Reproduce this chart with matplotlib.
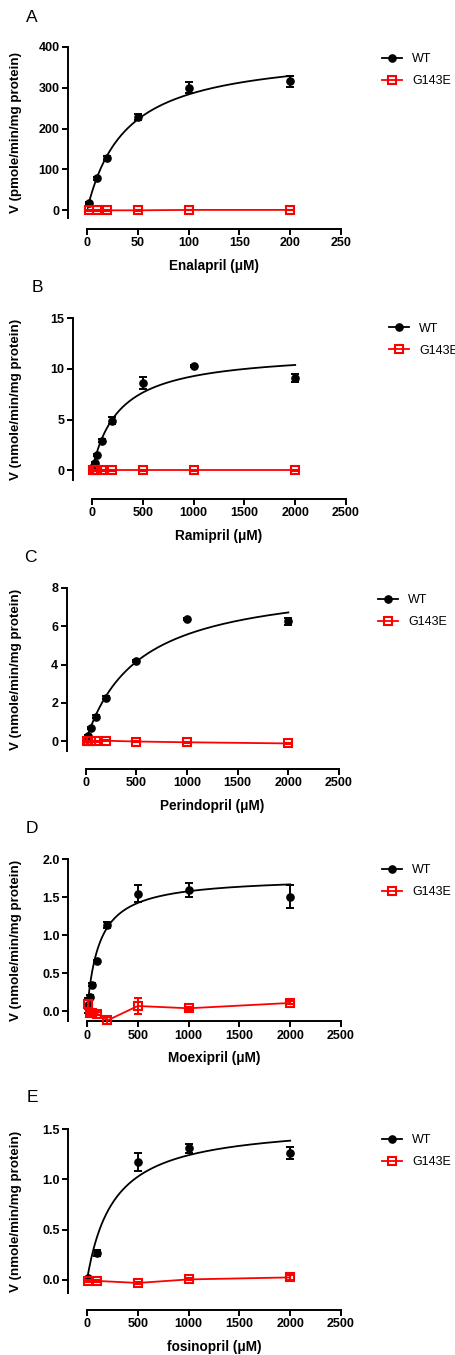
import numpy as np
import matplotlib
matplotlib.use('Agg')
import matplotlib.pyplot as plt
import matplotlib.transforms as mtransforms
from matplotlib.lines import Line2D
from matplotlib.ticker import FormatStrFormatter

plt.rcParams['font.family'] = ['Liberation Sans', 'DejaVu Sans']

W, H, DPI = 455, 1355, 100

# ---- data ----
# A: Enalapril (pmole/min/mg protein)
a_x = [2, 10, 20, 50, 100, 200]
a_wt = [18, 78, 128, 228, 300, 315]
a_wt_err = [3, 4, 5, 8, 14, 14]
a_mut = [0, 0, 0, 0, 1, 1]
a_mut_err = [1, 1, 1, 1, 1, 1]
a_fit = (391, 38)  # Vmax, Km of the fitted WT curve

# B: Ramipril
b_x = [10, 25, 50, 100, 200, 500, 1000, 2000]
b_wt = [0.3, 0.7, 1.5, 2.9, 4.9, 8.6, 10.3, 9.1]
b_wt_err = [0.05, 0.1, 0.1, 0.15, 0.35, 0.6, 0.1, 0.4]
b_mut = [0, 0, 0, 0, 0, 0, 0, 0]
b_mut_err = [0.05, 0.05, 0.05, 0.05, 0.05, 0.05, 0.05, 0.05]
b_fit = (11.79, 268)

# C: Perindopril
c_x = [10, 25, 50, 100, 200, 500, 1000, 2000]
c_wt = [0.1, 0.28, 0.68, 1.28, 2.27, 4.18, 6.37, 6.27]
c_wt_err = [0.02, 0.05, 0.05, 0.06, 0.08, 0.06, 0.05, 0.18]
c_mut = [0, 0, 0, 0, 0.02, -0.02, -0.06, -0.12]
c_mut_err = [0.02, 0.02, 0.02, 0.02, 0.02, 0.02, 0.02, 0.02]
c_fit = (8.47, 520)

# D: Moexipril
d_x = [10, 25, 50, 100, 200, 500, 1000, 2000]
d_wt = [0.08, 0.19, 0.35, 0.66, 1.14, 1.55, 1.60, 1.51]
d_wt_err = [0.1, 0.03, 0.02, 0.02, 0.04, 0.11, 0.09, 0.15]
d_mut = [0.09, -0.02, -0.02, -0.03, -0.12, 0.07, 0.04, 0.11]
d_mut_err = [0.06, 0.04, 0.02, 0.02, 0.05, 0.11, 0.02, 0.02]
d_fit = (1.771, 121)

# E: fosinopril
e_x = [10, 100, 500, 1000, 2000]
e_wt = [0.02, 0.27, 1.17, 1.31, 1.26]
e_wt_err = [0.01, 0.03, 0.09, 0.045, 0.06]
e_mut = [-0.015, -0.01, -0.03, 0.005, 0.025]
e_mut_err = [0.01, 0.01, 0.01, 0.01, 0.025]
e_fit = (1.566, 263)

panels = [
    dict(letter='A', letter_xy=(32, 17), xlabel='Enalapril (\u03bcM)',
         ylabel='V (pmole/min/mg protein)',
         x=a_x, wt=a_wt, wt_err=a_wt_err, mut=a_mut, mut_err=a_mut_err, fit=a_fit,
         box=(87, 341, 46.7, 218.5), xlim=(0, 250), xstep=50,
         ylim=(-20, 400), yticks=[0, 100, 200, 300, 400], yfmt='%d',
         xoff=10, leg=(382, 70.5)),
    dict(letter='B', letter_xy=(37, 287), xlabel='Ramipril (\u03bcM)',
         ylabel='V (nmole/min/mg protein)',
         x=b_x, wt=b_wt, wt_err=b_wt_err, mut=b_mut, mut_err=b_mut_err, fit=b_fit,
         box=(92, 346, 318.3, 480.5), xlim=(0, 2500), xstep=500,
         ylim=(-1, 15), yticks=[0, 5, 10, 15], yfmt='%d',
         xoff=18.5, leg=(389, 339.5)),
    dict(letter='C', letter_xy=(30, 558), xlabel='Perindopril (\u03bcM)',
         ylabel='V (nmole/min/mg protein)',
         x=c_x, wt=c_wt, wt_err=c_wt_err, mut=c_mut, mut_err=c_mut_err, fit=c_fit,
         box=(85.7, 339, 588, 750.7), xlim=(0, 2500), xstep=500,
         ylim=(-0.5, 8), yticks=[0, 2, 4, 6, 8], yfmt='%d',
         xoff=18.3, leg=(378, 611)),
    dict(letter='D', letter_xy=(32, 828), xlabel='Moexipril (\u03bcM)',
         ylabel='V (nmole/min/mg protein)',
         x=d_x, wt=d_wt, wt_err=d_wt_err, mut=d_mut, mut_err=d_mut_err, fit=d_fit,
         box=(87, 341, 859.3, 1021.2), xlim=(0, 2500), xstep=500,
         ylim=(-0.13, 2.0), yticks=[0, 0.5, 1.0, 1.5, 2.0], yfmt='%.1f',
         xoff=0, leg=(382, 881)),
    dict(letter='E', letter_xy=(32, 1098), xlabel='fosinopril (\u03bcM)',
         ylabel='V (nmole/min/mg protein)',
         x=e_x, wt=e_wt, wt_err=e_wt_err, mut=e_mut, mut_err=e_mut_err, fit=e_fit,
         box=(87, 341, 1129, 1293), xlim=(0, 2500), xstep=500,
         ylim=(-0.13, 1.5), yticks=[0, 0.5, 1.0, 1.5], yfmt='%.1f',
         xoff=17, leg=(382, 1151)),
]

fig = plt.figure(figsize=(W / DPI, H / DPI), dpi=DPI)
fig.patch.set_facecolor('white')

px2pt = 72 / DPI

for p in panels:
    left, right, top, bottom = p['box']
    ax = fig.add_axes([left / W, 1 - bottom / H, (right - left) / W, (bottom - top) / H])
    ax.set_facecolor('none')

    x = np.array(p['x'], dtype=float)
    # fitted Michaelis-Menten curve for WT
    vmax, km = p['fit']
    xf = np.linspace(0, x.max(), 300)
    ax.plot(xf, vmax * xf / (km + xf), color='black', lw=1.3, zorder=3)

    ax.errorbar(x, p['wt'], yerr=p['wt_err'], fmt='o', color='black', ms=5.2,
                elinewidth=1.4, capsize=2.8, capthick=1.4, zorder=4, clip_on=False)
    ax.errorbar(x, p['mut'], yerr=p['mut_err'], fmt='-s', color='red', mfc='none',
                mec='red', ms=5.6, mew=1.5, lw=1.3, elinewidth=1.4, capsize=2.8,
                capthick=1.4, zorder=5, clip_on=False)

    ax.set_xlim(*p['xlim'])
    ax.set_ylim(*p['ylim'])
    ax.set_xticks(np.arange(p['xlim'][0], p['xlim'][1] + 1, p['xstep']))
    ax.set_yticks(p['yticks'])
    ax.yaxis.set_major_formatter(FormatStrFormatter(p['yfmt']))

    for s in ['top', 'right']:
        ax.spines[s].set_visible(False)
    for s in ['left', 'bottom']:
        ax.spines[s].set_linewidth(1.4)
    ax.spines['left'].set_position(('outward', 19 * px2pt))
    ax.spines['bottom'].set_position(('outward', p['xoff'] * px2pt))

    ax.tick_params(direction='out', length=4, width=1.4, labelsize=9, pad=2)
    for lab in ax.get_xticklabels() + ax.get_yticklabels():
        lab.set_fontweight('bold')

    ax.set_xlabel(p['xlabel'], fontsize=9.8, fontweight='bold', labelpad=7)
    ax.set_ylabel(p['ylabel'], fontsize=9.6, fontweight='bold')
    trans = mtransforms.blended_transform_factory(fig.transFigure, ax.transAxes)
    ax.yaxis.set_label_coords(22 / W, 0.5, transform=trans)

    fig.text(p['letter_xy'][0] / W, 1 - p['letter_xy'][1] / H, p['letter'],
             fontsize=12.5, ha='center', va='center')

    handles = [
        Line2D([], [], color='black', marker='o', ms=5.2, lw=1.3),
        Line2D([], [], color='red', marker='s', mfc='none', mec='red', ms=5.6, mew=1.5, lw=1.3),
    ]
    lx, ly = p['leg']
    ax.legend(handles, ['WT', 'G143E'], loc='center left',
              bbox_to_anchor=(lx / W, 1 - ly / H), bbox_transform=fig.transFigure,
              frameon=False, borderpad=0, borderaxespad=0, handlelength=1.6,
              handletextpad=0.8, labelspacing=0.8, fontsize=9)

fig.savefig('out.png', dpi=DPI, facecolor='white')
